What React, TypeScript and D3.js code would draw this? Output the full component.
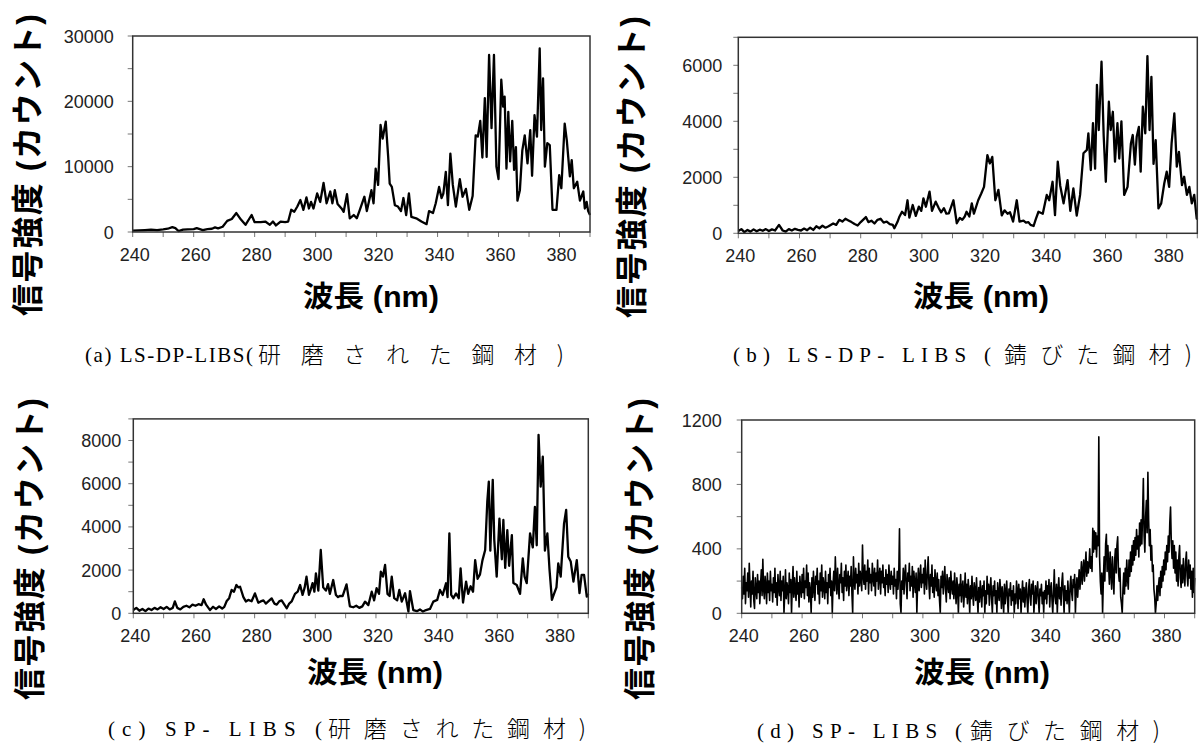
import React from "react";
import * as d3 from "d3";

// ---------- data (wavelength nm, intensity counts) ----------
const SPEC_A: [number, number][] = [
  [240, 200], [242, 250], [244, 300], [246, 350], [248, 300], [250, 400], [251.5, 500], [253, 750], [254, 600], [255, 150],
  [256.5, 350], [258, 400], [260, 450], [261, 600], [262, 450], [263, 300], [264.5, 450], [266, 500], [267, 700], [268, 550],
  [269.5, 800], [271, 1700], [272.5, 2000], [274, 2900], [275.5, 1900], [277, 1100], [279, 2600], [280, 1500], [282, 1500], [283.5, 1600],
  [285, 1100], [286, 1600], [287, 1000], [288.5, 1600], [290, 1500], [291, 1600], [292, 3400], [293, 3100], [294, 3900], [295, 4900],
  [296, 3400], [297, 5300], [297.8, 3600], [298.5, 4600], [299.3, 3600], [300.5, 5900], [301.5, 4600], [302.6, 7500], [303.6, 4400], [304.8, 6200],
  [305.5, 4400], [306.3, 6400], [307.2, 4300], [308.5, 3600], [309.2, 3100], [310.3, 5800], [311.2, 2100], [312.5, 2600], [313.5, 2100], [314.5, 3400],
  [316, 5400], [316.8, 3200], [318.3, 6400], [319, 4400], [319.7, 9700], [320.5, 7200], [321.3, 16400], [322, 14300], [322.5, 15600], [323, 16900],
  [323.8, 11500], [324.3, 7400], [325, 6900], [326, 4100], [327, 3900], [328, 3200], [328.8, 5200], [329.7, 2600], [330.6, 5900], [331.4, 2300],
  [333, 2100], [334.7, 1600], [336.4, 1200], [337.2, 3200], [338.5, 2900], [339.4, 4400], [340.5, 6900], [341.3, 5200], [341.9, 5900], [342.7, 9200],
  [343.4, 4100], [344.2, 12000], [345, 7200], [346, 3900], [347.3, 8100], [348.2, 5400], [349.3, 6600], [350.4, 3400], [351.5, 5500], [352.5, 14800],
  [353.2, 14600], [354, 17000], [354.7, 11400], [355.5, 20500], [356.1, 11500], [356.9, 27100], [357.7, 15900], [358.5, 27100], [359.3, 10000], [360, 8100],
  [360.9, 23300], [361.5, 19200], [362, 20700], [362.6, 9700], [363.2, 18400], [363.8, 10800], [364.5, 17000], [365.1, 9500], [365.7, 13000], [366.2, 4800],
  [367, 6400], [367.8, 12500], [368.6, 14800], [369.5, 10500], [370.4, 15600], [371, 8600], [371.8, 17900], [372.6, 14600], [373.5, 28100], [374, 15600],
  [374.6, 23500], [375.2, 10000], [376, 13600], [376.8, 13300], [377.7, 3400], [379, 3400], [379.9, 8700], [380.6, 6700], [381.7, 16600], [382.4, 14000],
  [383.4, 8500], [384, 11000], [384.7, 6700], [385.8, 7700], [386.7, 4800], [387.8, 6200], [388.3, 3600], [388.9, 4600], [389.4, 3200], [390, 2600],
];

const SPEC_B: [number, number][] = [
  [240, 80], [241, 150], [242, 40], [243, 120], [244, 60], [245, 140], [246, 70], [247, 130], [248, 90], [249, 150],
  [250, 80], [251, 140], [252, 100], [253.3, 300], [254.5, 100], [255.5, 60], [256.5, 150], [257.5, 100], [258.5, 160], [259.5, 120],
  [260.5, 100], [261.5, 170], [262.5, 110], [263.5, 200], [264.5, 120], [265.5, 250], [266.5, 180], [267.5, 270], [268.5, 200], [269.5, 250],
  [271, 350], [272, 300], [273, 480], [274, 420], [275, 520], [276, 460], [277, 400], [278, 330], [279, 280], [280, 400],
  [281.7, 580], [282.5, 400], [283.5, 450], [284.5, 350], [285.5, 480], [286.5, 520], [287.5, 380], [288.5, 420], [289.5, 330], [290.5, 300],
  [291, 180], [292, 400], [292.6, 580], [293.5, 770], [294.5, 650], [295.3, 1180], [295.9, 560], [297, 1010], [298, 620], [299, 950],
  [299.8, 800], [300.5, 1250], [301.3, 950], [302.5, 1490], [303.3, 800], [304.5, 1130], [305.5, 900], [306.3, 750], [307.2, 900], [308, 700],
  [308.8, 710], [310.3, 1180], [311.4, 360], [312.4, 550], [313.2, 480], [314, 600], [314.6, 770], [315.5, 600], [316.3, 1070], [317, 700],
  [318.4, 1180], [319.4, 1420], [320.3, 1660], [321.4, 2790], [322.2, 2500], [323, 2730], [324, 1180], [325, 1550], [326.1, 640], [327, 820],
  [328, 700], [328.8, 750], [329.8, 420], [331, 1180], [331.9, 420], [333.2, 450], [334, 380], [334.8, 400], [335.5, 300], [336.5, 260],
  [337.2, 500], [338.1, 770], [339.5, 700], [340.8, 1370], [341.6, 1180], [342.7, 1840], [343.5, 650], [344.4, 2560], [345.2, 1700], [346.3, 1070],
  [347.6, 1900], [348.5, 800], [349.5, 1600], [350.6, 630], [351.7, 1370], [352.8, 2860], [353.9, 2980], [354.4, 3570], [355.2, 2260], [355.9, 3930],
  [356.6, 2310], [357.2, 5300], [357.8, 3690], [358.7, 6130], [359.4, 3500], [360.1, 1840], [361.1, 4700], [361.7, 3690], [362.4, 4340], [363.1, 2560],
  [363.9, 3930], [364.5, 2670], [365.2, 4000], [366.1, 1370], [367.2, 1660], [368.3, 3210], [368.9, 3510], [369.6, 2450], [370.2, 3450], [370.9, 3800],
  [371.5, 2200], [372.2, 4520], [373, 3570], [373.7, 6330], [374.4, 3690], [375, 5590], [375.7, 2480], [376.4, 3330], [377.3, 890], [378.2, 1070],
  [379.2, 1780], [380, 2200], [380.8, 1660], [381.6, 3210], [382.5, 4280], [383.3, 2380], [384, 2910], [385, 1720], [385.7, 2020], [386.6, 1370],
  [387.4, 1660], [388.2, 1070], [389, 1370], [389.8, 530], [390, 500],
];

const SPEC_C: [number, number][] = [
  [240, 150], [241, 250], [242, 120], [243, 200], [244, 100], [245, 220], [246, 150], [247, 250], [248, 180], [249, 280],
  [250, 200], [251, 300], [252, 180], [253, 250], [253.7, 550], [254.5, 250], [255.5, 180], [256.5, 300], [257.5, 350], [258.5, 280],
  [259.5, 400], [260.5, 350], [261.5, 420], [262.5, 380], [263.2, 650], [264, 400], [265.3, 150], [266.3, 300], [267.3, 200], [268.3, 320],
  [269.3, 220], [270, 300], [270.8, 570], [271.6, 700], [272.4, 1080], [273.2, 1000], [274, 1310], [274.6, 1200], [275.2, 1230], [276.3, 750],
  [277.1, 550], [277.9, 620], [279, 560], [280.1, 920], [281.2, 490], [282, 550], [282.9, 600], [283.7, 450], [284.5, 550], [285.6, 690],
  [286.5, 450], [287.3, 400], [288.1, 550], [288.9, 600], [289.8, 400], [290.6, 230], [291.4, 450], [292.2, 550], [293.3, 900], [294.2, 1000],
  [295, 1310], [295.8, 850], [296.5, 1200], [297.1, 1700], [297.9, 850], [298.5, 1100], [299.1, 1400], [299.7, 1000], [300.2, 1850], [301, 1050],
  [301.8, 2930], [302.6, 1200], [303.5, 1050], [304.2, 1350], [304.8, 900], [305.9, 1540], [306.8, 850], [307.5, 750], [308.1, 800], [309, 800],
  [310.3, 1340], [311.4, 320], [312.5, 280], [313.5, 350], [314.5, 250], [315.5, 320], [316.4, 540], [317.5, 380], [318.6, 1000], [319.4, 600],
  [320.2, 1160], [321, 900], [321.6, 1930], [322.3, 1700], [323, 2240], [323.8, 900], [324.5, 800], [325.2, 1700], [326, 700], [327, 600],
  [327.7, 1080], [328.5, 540], [329.6, 930], [330.7, 80], [331.2, 1030], [332.3, 150], [333.5, 100], [334.5, 180], [335.5, 80], [336.5, 150],
  [337.8, 200], [338.9, 540], [340.2, 620], [341.1, 1080], [342, 850], [343.1, 1390], [343.6, 750], [344.2, 3700], [344.8, 850], [345.5, 700],
  [346.4, 920], [347.3, 700], [347.9, 2080], [348.7, 500], [349.7, 1470], [350.4, 900], [351.2, 1250], [352, 1000], [352.7, 2460], [353.5, 1600],
  [354.3, 1800], [355.1, 2450], [356, 2930], [356.7, 5170], [357.2, 6100], [357.7, 2900], [358.5, 6180], [359, 3400], [359.8, 1700], [360.7, 4380],
  [361.5, 2500], [362, 4320], [362.6, 2100], [363.3, 3850], [363.9, 2200], [364.8, 3620], [365.3, 1400], [366.4, 1310], [367.5, 900], [368.4, 2540],
  [369, 1700], [369.7, 1400], [370.8, 3700], [371.7, 3050], [372.4, 4930], [373, 3150], [373.6, 8260], [374.3, 5860], [375, 7250], [375.7, 2900],
  [376.5, 3700], [377.2, 2050], [378, 620], [378.7, 900], [379.5, 1200], [380.1, 2310], [380.9, 1700], [382, 4150], [382.7, 4790], [383.4, 2620],
  [384.2, 2400], [385.1, 1470], [386.2, 2460], [387.1, 930], [387.8, 1780], [388.6, 1780], [389.5, 770], [390, 900],
];

// panel (d): sampled every 0.25 nm starting at 240 nm (two rows = 10 nm)
const D_START_NM = 240;
const D_STEP_NM = 0.25;
const INT_D: number[] = [
  160, 90, 230, 120, 280, 60, 190, 140, 250, 100, 310, 170, 40, 200, 120, 260, 80, 30, 220, 150,
  90, 240, 130, 200, 60, 180, 270, 110, 335, 150, 90, 230, 170, 60, 250, 130, 200, 80, 260, 140,
  180, 70, 220, 130, 280, 100, 190, 50, 240, 160, 110, 260, 80, 200, 140, 230, 0, 120, 270, 90,
  190, 150, 60, 250, 130, 210, 0, 170, 290, 100, 220, 140, 80, 260, 120, 190, 40, 230, 160, 100,
  240, 130, 280, 90, 200, 160, 300, 110, 250, 70, 190, 140, 0, 220, 100, 260, 150, 80, 230, 180,
  280, 120, 200, 60, 250, 140, 300, 100, 220, 170, 90, 260, 130, 190, 60, 240, 160, 280, 110, 200,
  0, 180, 260, 140, 350, 210, 120, 280, 170, 90, 240, 190, 310, 130, 220, 80, 260, 170, 300, 140,
  200, 260, 110, 230, 170, 290, 120, 0, 350, 200, 150, 280, 190, 240, 120, 310, 170, 260, 210, 140,
  424, 230, 180, 300, 150, 260, 200, 330, 120, 280, 190, 240, 140, 310, 220, 170, 280, 110, 250, 200,
  330, 150, 230, 280, 120, 260, 190, 300, 160, 220, 110, 270, 180, 240, 130, 300, 200, 150, 260, 180,
  230, 120, 280, 170, 210, 90, 260, 150, 240, 525, 60, 0, 200, 150, 280, 120, 240, 300, 180, 90,
  250, 200, 310, 140, 230, 170, 290, 100, 260, 190, 130, 250, 0, 180, 280, 140, 220, 300, 160, 240,
  190, 280, 120, 330, 200, 150, 260, 350, 180, 90, 240, 170, 300, 130, 220, 100, 270, 190, 140, 250,
  110, 210, 80, 0, 230, 160, 260, 120, 200, 290, 150, 70, 240, 180, 130, 220, 90, 260, 170, 120,
  200, 90, 250, 140, 60, 220, 150, 0, 180, 110, 240, 70, 160, 200, 40, 130, 250, 100, 180, 60,
  210, 140, 0, 170, 90, 230, 120, 50, 190, 140, 80, 220, 100, 0, 160, 70, 200, 130, 40, 170,
  110, 200, 0, 140, 60, 230, 120, 180, 50, 150, 220, 90, 0, 170, 110, 200, 60, 140, 0, 190,
  120, 80, 210, 140, 30, 165, 100, 0, 180, 60, 130, 200, 90, 0, 150, 110, 190, 50, 140, 80,
  170, 0, 120, 60, 200, 140, 30, 180, 90, 150, 0, 110, 200, 70, 160, 40, 130, 190, 80, 0,
  150, 210, 100, 50, 180, 120, 200, 0, 90, 170, 60, 140, 195, 80, 0, 150, 110, 180, 60, 130,
  0, 140, 90, 200, 60, 170, 120, 210, 40, 150, 190, 80, 0, 130, 270, 100, 60, 180, 0, 140,
  220, 90, 160, 50, 190, 250, 120, 0, 170, 80, 140, 60, 200, 110, 0, 170, 230, 130, 80, 210,
  160, 240, 0, 150, 220, 100, 190, 270, 150, 230, 320, 180, 260, 330, 200, 290, 380, 230, 320, 250,
  300, 400, 280, 350, 260, 527, 380, 510, 400, 500, 350, 480, 420, 1095, 350, 200, 120, 250, 0, 200,
  350, 200, 430, 490, 260, 420, 300, 180, 380, 260, 150, 350, 230, 120, 330, 400, 250, 420, 475, 260,
  200, 280, 100, 60, 0, 150, 250, 120, 280, 170, 330, 220, 150, 330, 230, 380, 260, 420, 300, 450,
  330, 470, 360, 520, 400, 480, 350, 560, 420, 580, 430, 620, 837, 480, 380, 600, 700, 500, 875, 580,
  420, 520, 330, 420, 260, 300, 150, 100, 0, 60, 170, 80, 170, 220, 110, 260, 160, 290, 200, 330,
  240, 380, 270, 420, 320, 480, 380, 560, 660, 440, 340, 450, 280, 420, 250, 380, 200, 330, 170, 350,
  420, 220, 160, 300, 190, 340, 230, 170, 320, 380, 230, 170, 330, 220, 300, 150, 260, 100, 280, 130,
  220,
];

const X_TICKS = [240, 250, 260, 270, 280, 290, 300, 310, 320, 330, 340, 350, 360, 370, 380, 390];
const X_LABELS = [240, 260, 280, 300, 320, 340, 360, 380];
const Y_LABELS_A = [0, 10000, 20000, 30000];
const Y_LABELS_B = [0, 2000, 4000, 6000];
const Y_LABELS_C = [0, 2000, 4000, 6000, 8000];
const Y_LABELS_D = [0, 400, 800, 1200];

const Y_TITLE = "信号強度 (カウント)";
const X_TITLE = "波長 (nm)";
const CAPTION_LATIN = ["(a) LS-DP-LIBS(", "(b) LS-DP- LIBS (", "(c) SP- LIBS (", "(d) SP- LIBS ("];
const CAPTION_JA = ["研磨された鋼材)", "錆びた鋼材)", "研磨された鋼材)", "錆びた鋼材)"];

const SPEC_D: [number, number][] = INT_D.map((v, i) => [D_START_NM + i * D_STEP_NM, v]);

type Panel = {
  x0: number; x1: number; y0: number; y1: number;
  yMax: number; yMinor: number; yLabels: number[];
  data: [number, number][]; lineW: number;
  latin: string; ja: string;
  latX: number; latW: number; jaX: number; jaW: number; capY: number;
  yTitleX: number; yTitleY: number; xTitleX: number; xTitleY: number;
  yLabelGap: number;
};

const PANELS: Panel[] = [
  { x0: 132.7, x1: 590, y0: 36, y1: 232, yMax: 30000, yMinor: 5000, yLabels: Y_LABELS_A, data: SPEC_A, lineW: 2.3,
    latin: CAPTION_LATIN[0], ja: CAPTION_JA[0], latX: 85, latW: 168, jaX: 258, jaW: 306, capY: 362,
    yTitleX: 28, yTitleY: 165, xTitleX: 371, xTitleY: 307, yLabelGap: 19 },
  { x0: 738.3, x1: 1197.3, y0: 37.3, y1: 233.3, yMax: 7000, yMinor: 1000, yLabels: Y_LABELS_B, data: SPEC_B, lineW: 2.3,
    latin: CAPTION_LATIN[1], ja: CAPTION_JA[1], latX: 733, latW: 258, jaX: 1004, jaW: 188, capY: 362,
    yTitleX: 632, yTitleY: 167, xTitleX: 981, xTitleY: 307, yLabelGap: 16 },
  { x0: 133.3, x1: 588.3, y0: 418.9, y1: 613.3, yMax: 9000, yMinor: 1000, yLabels: Y_LABELS_C, data: SPEC_C, lineW: 2.3,
    latin: CAPTION_LATIN[2], ja: CAPTION_JA[2], latX: 108, latW: 214, jaX: 328, jaW: 258, capY: 736,
    yTitleX: 30, yTitleY: 549, xTitleX: 375, xTitleY: 683, yLabelGap: 12 },
  { x0: 741.7, x1: 1194.7, y0: 420, y1: 613.3, yMax: 1200, yMinor: 200, yLabels: Y_LABELS_D, data: SPEC_D, lineW: 1.6,
    latin: CAPTION_LATIN[3], ja: CAPTION_JA[3], latX: 757, latW: 205, jaX: 970, jaW: 190, capY: 738,
    yTitleX: 640, yTitleY: 549, xTitleX: 982, xTitleY: 683, yLabelGap: 20 },
];

const SANS = "'Liberation Sans', Arial, 'Noto Sans CJK JP', sans-serif";
const SERIF = "'Liberation Serif', 'Times New Roman', serif";
const JA = "'Noto Sans CJK JP', sans-serif";

function PanelView({ p }: { p: Panel }) {
  const x = d3.scaleLinear().domain([240, 390]).range([p.x0, p.x1]);
  const y = d3.scaleLinear().domain([0, p.yMax]).range([p.y1, p.y0]);
  const line = d3.line<[number, number]>().x((d) => x(d[0])).y((d) => y(d[1]));
  const yTicks = d3.range(0, p.yMax + 1, p.yMinor);
  const axisColor = "#777";
  return (
    <g>
      {X_TICKS.map((t) => (
        <line key={"xt" + t} x1={x(t)} x2={x(t)} y1={p.y1} y2={p.y1 + 5} stroke={axisColor} strokeWidth={1} />
      ))}
      {yTicks.map((t) => (
        <line key={"yt" + t} x1={p.x0 - 5} x2={p.x0} y1={y(t)} y2={y(t)} stroke={axisColor} strokeWidth={1} />
      ))}
      {X_LABELS.map((t) => (
        <text key={"xl" + t} x={x(t) + 2} y={p.y1 + 29} textAnchor="middle" fontFamily={SANS} fontSize={18} fill="#222">
          {t}
        </text>
      ))}
      {p.yLabels.map((t) => (
        <text key={"yl" + t} x={p.x0 - p.yLabelGap} y={y(t) + 6.5} textAnchor="end" fontFamily={SANS} fontSize={18} fill="#222">
          {t}
        </text>
      ))}
      <path d={line(p.data) || ""} fill="none" stroke="#000" strokeWidth={p.lineW} strokeLinejoin="round" />
      <rect x={p.x0} y={p.y0} width={p.x1 - p.x0} height={p.y1 - p.y0} fill="none" stroke="#333" strokeWidth={1.5} />
      <text x={p.xTitleX} y={p.xTitleY} textAnchor="middle" fontFamily={SANS} fontWeight="bold" fontSize={29}
        fill="#000" textLength={136} lengthAdjust="spacingAndGlyphs">
        {X_TITLE}
      </text>
      <text
        transform={`translate(${p.yTitleX + 11},${p.yTitleY}) rotate(-90)`}
        textAnchor="middle" fontFamily={SANS} fontWeight="bold" fontSize={32} fill="#000"
        textLength={302} lengthAdjust="spacing"
      >
        {Y_TITLE}
      </text>
      <text x={p.latX} y={p.capY} fontFamily={SERIF} fontSize={21} fill="#000" textLength={p.latW} lengthAdjust="spacing">
        {p.latin}
      </text>
      <text x={p.jaX} y={p.capY + 1} fontFamily={JA} fontWeight={300} fontSize={23} fill="#000" textLength={p.jaW} lengthAdjust="spacing">
        {p.ja}
      </text>
    </g>
  );
}

export default function App() {
  return (
    <svg width={1200} height={747} style={{ position: "absolute", left: 0, top: 0, background: "#fff" }}>
      <rect x={0} y={0} width={1200} height={747} fill="#fff" />
      {PANELS.map((p, i) => (
        <PanelView key={i} p={p} />
      ))}
    </svg>
  );
}
